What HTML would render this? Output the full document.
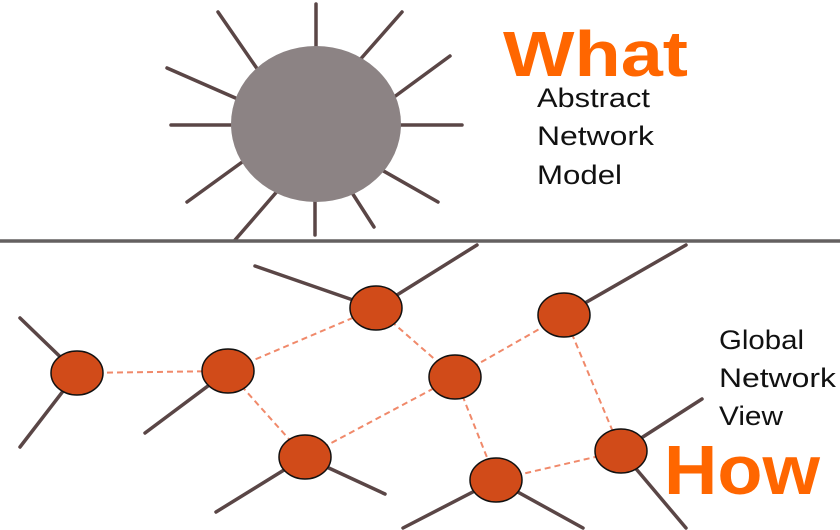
<!DOCTYPE html>
<html><head><meta charset="utf-8"><style>
html,body{margin:0;padding:0;background:#fff;width:840px;height:530px;overflow:hidden}
svg{display:block}
text{font-family:"Liberation Sans",sans-serif}
</style></head><body>
<svg width="840" height="530" viewBox="0 0 840 530">
<g stroke="#5a4646" stroke-width="3.5" stroke-linecap="round">
<line x1="316" y1="4" x2="316" y2="50"/>
<line x1="218" y1="12" x2="258" y2="70"/>
<line x1="402" y1="12" x2="358" y2="62"/>
<line x1="450" y1="56" x2="390" y2="100"/>
<line x1="167" y1="68" x2="240" y2="100"/>
<line x1="171" y1="125" x2="236" y2="125"/>
<line x1="396" y1="125" x2="462" y2="125"/>
<line x1="245" y1="160" x2="187" y2="202"/>
<line x1="380" y1="169" x2="438" y2="202"/>
<line x1="280" y1="188" x2="235" y2="240"/>
<line x1="349" y1="188" x2="374" y2="227"/>
<line x1="315" y1="198" x2="315" y2="235"/>
</g>
<ellipse cx="316" cy="124" rx="85" ry="78" fill="#8c8384"/>
<line x1="0" y1="241" x2="840" y2="241" stroke="#646060" stroke-width="3.5"/>
<g stroke="#f0896a" stroke-width="2" stroke-dasharray="6,4">
<line x1="77" y1="373" x2="228" y2="371"/>
<line x1="228" y1="371" x2="376" y2="308"/>
<line x1="228" y1="371" x2="305" y2="457"/>
<line x1="376" y1="308" x2="455" y2="377"/>
<line x1="305" y1="457" x2="455" y2="377"/>
<line x1="455" y1="377" x2="564" y2="315"/>
<line x1="455" y1="377" x2="496" y2="480"/>
<line x1="564" y1="315" x2="621" y2="451"/>
<line x1="496" y1="480" x2="621" y2="451"/>
</g>
<g stroke="#5a4646" stroke-width="3.5" stroke-linecap="round">
<line x1="20" y1="318" x2="77" y2="373"/>
<line x1="20" y1="447" x2="77" y2="373"/>
<line x1="145" y1="433" x2="228" y2="371"/>
<line x1="255" y1="266" x2="376" y2="308"/>
<line x1="477" y1="245" x2="376" y2="308"/>
<line x1="686" y1="245" x2="564" y2="315"/>
<line x1="216" y1="512" x2="305" y2="457"/>
<line x1="385" y1="494" x2="305" y2="457"/>
<line x1="403" y1="528" x2="496" y2="480"/>
<line x1="583" y1="528" x2="496" y2="480"/>
<line x1="702" y1="399" x2="621" y2="451"/>
<line x1="686" y1="528" x2="621" y2="451"/>
</g>
<g fill="#d14b19" stroke="#111" stroke-width="1.5">
<ellipse cx="77" cy="373" rx="26" ry="22"/>
<ellipse cx="228" cy="371" rx="26" ry="22"/>
<ellipse cx="376" cy="308" rx="26" ry="22"/>
<ellipse cx="455" cy="377" rx="26" ry="22"/>
<ellipse cx="564" cy="315" rx="26" ry="22"/>
<ellipse cx="305" cy="457" rx="26" ry="22"/>
<ellipse cx="496" cy="480" rx="26" ry="22"/>
<ellipse cx="621" cy="451" rx="26" ry="22"/>
</g>
<text x="503" y="76" font-size="64" font-weight="bold" fill="#ff6600" textLength="185" lengthAdjust="spacingAndGlyphs">What</text>
<g font-size="27" fill="#111">
<text x="537" y="107" textLength="113" lengthAdjust="spacingAndGlyphs">Abstract</text>
<text x="537" y="145" textLength="117" lengthAdjust="spacingAndGlyphs">Network</text>
<text x="537" y="184" textLength="85" lengthAdjust="spacingAndGlyphs">Model</text>
</g>
<g font-size="27" fill="#111">
<text x="719" y="349" textLength="85" lengthAdjust="spacingAndGlyphs">Global</text>
<text x="719" y="387" textLength="117" lengthAdjust="spacingAndGlyphs">Network</text>
<text x="719" y="425" textLength="64" lengthAdjust="spacingAndGlyphs">View</text>
</g>
<text x="664" y="494" font-size="70" font-weight="bold" fill="#ff6600" textLength="156" lengthAdjust="spacingAndGlyphs">How</text>
</svg>
</body></html>
